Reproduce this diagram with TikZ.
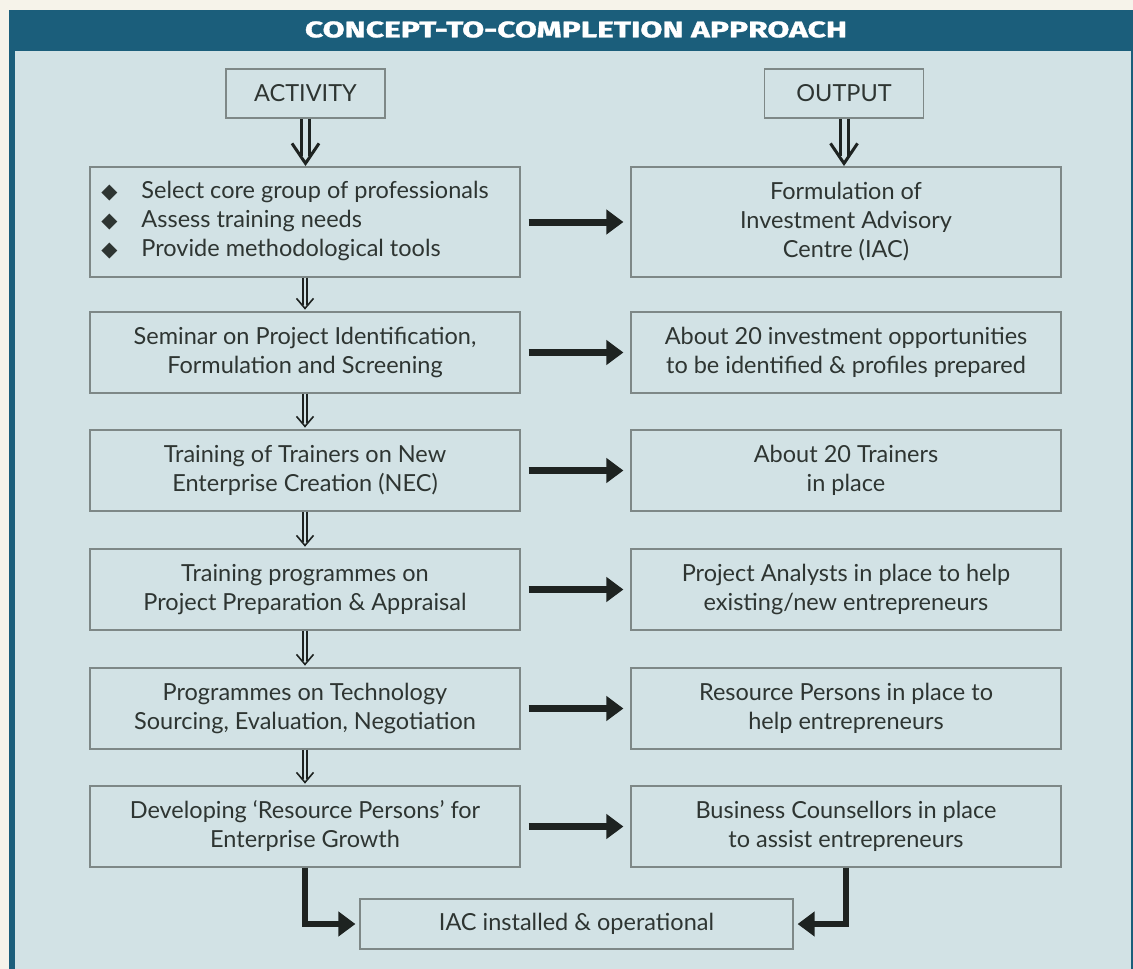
\documentclass[tikz,border=0pt]{standalone}
\usepackage{fontspec}
\setmainfont{Lato}
\newfontfamily\headfont{Fira Sans}[BoldFeatures={FakeBold=1.2}]
\newfontfamily\symfont{DejaVu Sans}
\usetikzlibrary{arrows.meta,calc}
\definecolor{hdrcol}{HTML}{1B5E7B}
\definecolor{panelcol}{HTML}{D2E2E5}
\definecolor{pagecol}{HTML}{F6F3EA}
\definecolor{boxcol}{HTML}{7E8887}
\definecolor{inkcol}{HTML}{1E2321}
\definecolor{txtcol}{HTML}{2E3532}
\newcommand\dblarrow[6]{%
  \coordinate (tip) at ($(#1.south |- #2.north)+(0,-3)$);
  \draw[draw=inkcol, line width=#3, double=panelcol, double distance=#4] (#1.south) -- ($(tip)+(0,-#6*0.35)$);
  \draw[draw=inkcol, line width=#3, line join=miter] ($(tip)+(-#5,-#6)$) -- (tip) -- ($(tip)+(#5,-#6)$);}
\newcommand\dmd{{\symfont\fontsize{21}{21}\selectfont ◆}}
\begin{document}
\begin{tikzpicture}[x=1pt,y=-1pt,
  box/.style={draw=boxcol, line width=1.2pt, inner sep=0pt, align=center, text=txtcol,
    font=\fontsize{23.5}{29}\selectfont},
  lbox/.style={box, minimum width=430pt, minimum height=81pt},
  hbox/.style={box, minimum width=159pt, minimum height=49pt},
  harrow/.style={draw=inkcol, line width=7pt, -{Triangle[length=17pt,width=24pt]},
    shorten <=8pt, shorten >=7pt},
  elbow/.style={draw=inkcol, line width=6.5pt, line join=miter,
    -{Triangle[length=17pt,width=24pt]}, shorten >=4pt}]
\useasboundingbox (0,0) rectangle (1133,969);
\fill[pagecol] (0,0) rectangle (1133,969);
\fill[hdrcol] (9,10) rectangle (1133,969);
\fill[panelcol] (15,51) rectangle (1131,969);
\node[text=white, font=\headfont\bfseries, inner sep=0pt] (title) at (576,29.5)
  {\resizebox{542pt}{16pt}{CONCEPT-TO-COMPLETION APPROACH}};
% headers
\node[hbox] (act) at (305.5,93.5) {ACTIVITY};
\node[hbox] (out) at (844,93.5) {OUTPUT};
% left column
\node[lbox, minimum height=110pt] (l1) at (305,222) {%
  \begin{tabular}{@{}l@{\hspace{24pt}}l@{}}
  \dmd & Select core group of professionals\\
  \dmd & Assess training needs\\
  \dmd & Provide methodological tools
  \end{tabular}\hspace{20pt}};
\node[lbox] (l2) at (305,352.5) {Seminar on Project Identification,\\Formulation and Screening};
\node[lbox] (l3) at (305,470.5) {Training of Trainers on New\\Enterprise Creation (NEC)};
\node[lbox] (l4) at (305,589.5) {Training programmes on\\Project Preparation \& Appraisal};
\node[lbox] (l5) at (305,708.5) {Programmes on Technology\\Sourcing, Evaluation, Negotiation};
\node[lbox] (l6) at (305,826.5) {Developing ‘Resource Persons’ for\\Enterprise Growth};
% right column
\node[lbox, minimum height=110pt] (r1) at (846,222) {Formulation of\\Investment Advisory\\Centre (IAC)};
\node[lbox] (r2) at (846,352.5) {About 20 investment opportunities\\to be identified \& profiles prepared};
\node[lbox] (r3) at (846,470.5) {About 20 Trainers\\in place};
\node[lbox] (r4) at (846,589.5) {Project Analysts in place to help\\existing/new entrepreneurs};
\node[lbox] (r5) at (846,708.5) {Resource Persons in place to\\help entrepreneurs};
\node[lbox] (r6) at (846,826.5) {Business Counsellors in place\\to assist entrepreneurs};
% final
\node[box, minimum width=433pt, minimum height=50pt] (fin) at (576.5,924) {IAC installed \& operational};
% double arrows
\dblarrow{act}{l1}{3pt}{5pt}{13.5}{20}
\dblarrow{out}{r1}{3pt}{5pt}{13.5}{20}
\foreach \a/\b in {l1/l2,l2/l3,l3/l4,l4/l5,l5/l6}{\dblarrow{\a}{\b}{1.6pt}{2.8pt}{8.5}{10}}
% horizontal arrows
\foreach \i in {1,...,6}{\draw[harrow] (l\i) -- (r\i);}
% bottom elbows
\draw[elbow] (l6.south) |- (fin.west);
\draw[elbow] (r6.south) |- (fin.east);
\end{tikzpicture}
\end{document}
